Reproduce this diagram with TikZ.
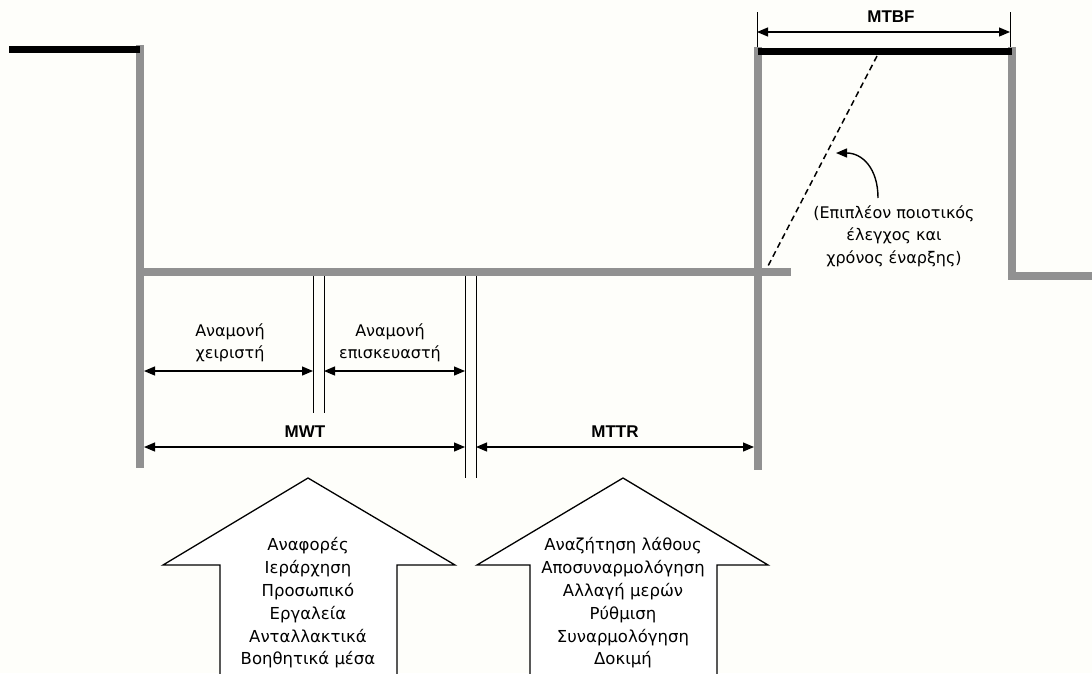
\documentclass[tikz,border=0pt]{standalone}
\usepackage{fontspec}
\setmainfont{DejaVu Sans}
\newfontfamily\lblfont{Liberation Sans}
\usetikzlibrary{arrows.meta}

\definecolor{levelgrey}{RGB}{145,145,145}
\definecolor{paper}{RGB}{254,254,250}

\tikzset{
  greyline/.style={draw=levelgrey, line width=8pt},
  upline/.style={draw=black, line width=7pt},
  dimline/.style={draw=black, line width=1.2pt,
    {Triangle[length=11pt,width=9pt]}-{Triangle[length=11pt,width=9pt]}},
  tickline/.style={draw=black, line width=1pt},
  blockarrow/.style={draw=black, line width=1.3pt, fill=white, line join=miter},
  dimlabel/.style={font=\lblfont\fontsize{17}{19}\selectfont\bfseries, inner sep=0pt},
  greeklabel/.style={font=\fontsize{16}{22.5}\selectfont, align=center, inner sep=0pt},
  listtext/.style={font=\fontsize{16.5}{22.8}\selectfont, align=center, inner sep=0pt},
}

\begin{document}
\begin{tikzpicture}[x=1pt,y=-1pt]
\useasboundingbox (0,0) rectangle (1092,673);
\fill[paper] (0,0) rectangle (1092,673);

% key points of the state diagram
\coordinate (upA) at (9,49);
\coordinate (fallA) at (140,49);
\coordinate (fallAtop) at (140,45);
\coordinate (fallAbot) at (140,468);
\coordinate (downL) at (140,272);
\coordinate (downR) at (791,272);
\coordinate (riseTop) at (758,47);
\coordinate (riseBot) at (758,470);
\coordinate (upB) at (758,51);
\coordinate (upBend) at (1012,51);
\coordinate (fallBtop) at (1012,47);
\coordinate (fallBbot) at (1012,276);
\coordinate (outR) at (1092,276);

% grey levels
\draw[greyline] (fallAtop) -- (fallAbot);
\draw[greyline] (downL) -- (downR);
\draw[greyline] (riseTop) -- (riseBot);
\draw[greyline, line join=miter] (fallBtop) -- (fallBbot) -- (outR);

% operating (up) periods
\draw[upline] (upA) -- (fallA);
\draw[upline] (upB) -- (upBend);

% MTBF dimension
\coordinate (tbfL0) at (757,12);
\coordinate (tbfL1) at (757,47);
\coordinate (tbfR0) at (1010,12);
\coordinate (tbfR1) at (1010,47);
\coordinate (tbfA) at (757,32);
\coordinate (tbfB) at (1010,32);
\draw[tickline] (tbfL0) -- (tbfL1);
\draw[tickline] (tbfR0) -- (tbfR1);
\draw[dimline] (tbfA) -- (tbfB);
\node[dimlabel] (mtbf) at (891,17) {MTBF};

% extra check / start-up slope
\coordinate (slopeTop) at (877,56);
\coordinate (slopeBot) at (768,266);
\draw[black, line width=1.5pt, dash pattern=on 6pt off 4pt] (slopeTop) -- (slopeBot);

\node[greeklabel] (note) at (894,236) {(Επιπλέον ποιοτικός\\έλεγχος και\\χρόνος έναρξης)};
\coordinate (noteTip) at (836,153);
\draw[black, line width=1.4pt, -{Triangle[length=11pt,width=9pt]}]
  (878,198) .. controls (878,168) and (862,153) .. (noteTip);

% separators of the waiting intervals
\coordinate (s1a) at (313,276);
\coordinate (s1b) at (313,413);
\coordinate (s2a) at (324,276);
\coordinate (s2b) at (324,413);
\coordinate (s3a) at (465,276);
\coordinate (s3b) at (465,478);
\coordinate (s4a) at (476,276);
\coordinate (s4b) at (476,478);
\draw[tickline] (s1a) -- (s1b);
\draw[tickline] (s2a) -- (s2b);
\draw[tickline] (s3a) -- (s3b);
\draw[tickline] (s4a) -- (s4b);

% waiting intervals
\coordinate (w1a) at (144,371);
\coordinate (w1b) at (313,371);
\coordinate (w2a) at (324,371);
\coordinate (w2b) at (465,371);
\draw[dimline] (w1a) -- (w1b);
\draw[dimline] (w2a) -- (w2b);
\node[greeklabel] (waitop) at (230,343) {Αναμονή\\χειριστή};
\node[greeklabel] (waitrep) at (390,343) {Αναμονή\\επισκευαστή};

% MWT and MTTR
\coordinate (mwtA) at (144,447);
\coordinate (mwtB) at (465,447);
\coordinate (mttrA) at (476,447);
\coordinate (mttrB) at (754,447);
\draw[dimline] (mwtA) -- (mwtB);
\draw[dimline] (mttrA) -- (mttrB);
\node[dimlabel] (mwt) at (305,432) {MWT};
\node[dimlabel] (mttr) at (615,432) {MTTR};

% block arrows with contributing factors
\draw[blockarrow] (220,674) -- (220,565) -- (163,565) -- (308,478) -- (455,565) -- (397,565) -- (397,674);
\draw[blockarrow] (530,674) -- (530,565) -- (477,565) -- (623,478) -- (768,565) -- (717,565) -- (717,674);

\node[listtext] (waitlist) at (308,603) {Αναφορές\\Ιεράρχηση\\Προσωπικό\\Εργαλεία\\Ανταλλακτικά\\Βοηθητικά μέσα};
\node[listtext] (repairlist) at (623,603) {Αναζήτηση λάθους\\Αποσυναρμολόγηση\\Αλλαγή μερών\\Ρύθμιση\\Συναρμολόγηση\\Δοκιμή};
\end{tikzpicture}
\end{document}
